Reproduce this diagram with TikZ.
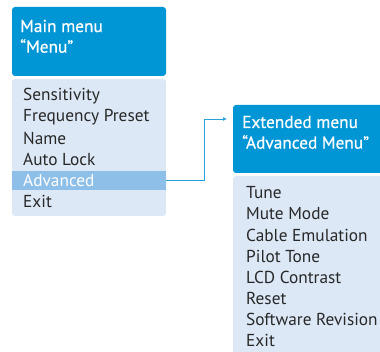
\documentclass[tikz,border=0pt]{standalone}
\usepackage{fontspec}
\setmainfont{PT Sans}
\newfontfamily\hdrfont[FakeBold=0.7]{PT Sans}
\usetikzlibrary{arrows.meta}
\definecolor{hdrblue}{RGB}{0,150,214}
\definecolor{listbg}{RGB}{220,232,246}
\definecolor{hilite}{RGB}{141,191,232}
\definecolor{txt}{RGB}{40,40,40}
\definecolor{linkblue}{RGB}{40,160,218}
\tikzset{
  hdrbox/.style={fill=hdrblue, rounded corners=3pt},
  listbox/.style={fill=listbg, rounded corners=3pt},
  hdrtxt/.style={anchor=west, inner sep=0pt, text=white, font=\hdrfont\fontsize{17.3}{19}\selectfont},
  itemtxt/.style={anchor=west, inner sep=0pt, text=txt, font=\fontsize{17.3}{19}\selectfont},
  link/.style={draw=linkblue, line width=0.9pt, -{Latex[length=4pt,width=4pt]}}
}
\begin{document}
\begin{tikzpicture}[x=1pt,y=-1pt]
\useasboundingbox (0,0) rectangle (380,352);
\clip (0,0) rectangle (380,352);
% main menu
\path[hdrbox] (12,7) rectangle (166,76);
\path[listbox] (12,79) rectangle (166,216);
\fill[hilite] (12,171) rectangle (166,190);
\node[hdrtxt] (mh1) at (20,26) {Main menu};
\node[hdrtxt] (mh2) at (20,46) {“Menu”};
\node[itemtxt] (m1) at (23,96) {Sensitivity};
\node[itemtxt] (m2) at (23,117) {Frequency Preset};
\node[itemtxt] (m3) at (23,138) {Name};
\node[itemtxt] (m4) at (23,159) {Auto Lock};
\node[itemtxt,text=white] (m5) at (23,180) {Advanced};
\node[itemtxt] (m6) at (23,201) {Exit};
\coordinate (advR) at (166,180);
% extended menu
\path[hdrbox] (233,105) rectangle (390,173);
\path[listbox] (233,176) rectangle (390,360);
\node[hdrtxt] (eh1) at (242,122) {Extended menu};
\node[hdrtxt] (eh2) at (242,142) {“Advanced Menu”};
\node[itemtxt] (e1) at (246,193) {Tune};
\node[itemtxt] (e2) at (246,214) {Mute Mode};
\node[itemtxt] (e3) at (246,235) {Cable Emulation};
\node[itemtxt] (e4) at (246,256) {Pilot Tone};
\node[itemtxt] (e5) at (246,277) {LCD Contrast};
\node[itemtxt] (e6) at (246,298) {Reset};
\node[itemtxt] (e7) at (246,319) {Software Revision};
\node[itemtxt] (e8) at (246,340) {Exit};
\coordinate (extL) at (227,119);
\draw[link] (advR) -- (204,180) |- (extL);
\end{tikzpicture}
\end{document}
